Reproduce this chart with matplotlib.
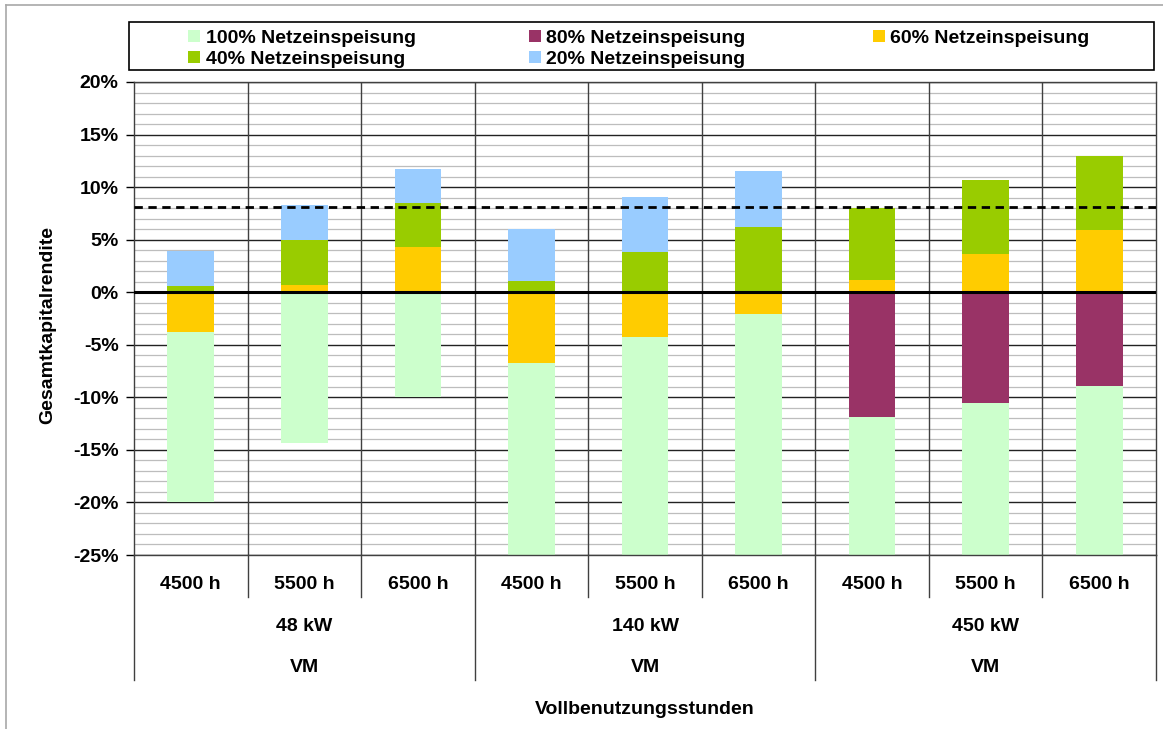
import numpy as np
import matplotlib
matplotlib.use('Agg')
import matplotlib.pyplot as plt
import matplotlib.transforms as mtransforms
from matplotlib.lines import Line2D
from matplotlib.patches import Patch, Rectangle
from matplotlib.ticker import MultipleLocator, FuncFormatter

plt.rcParams['font.family'] = ['Liberation Sans', 'DejaVu Sans']
plt.rcParams['font.weight'] = 'bold'
plt.rcParams['font.size'] = 14

# Daten
hours = ['4500 h', '5500 h', '6500 h', '4500 h', '5500 h', '6500 h', '4500 h', '5500 h', '6500 h']
sizes = ['48 kW', '140 kW', '450 kW']
plant = 'VM'

nan = np.nan
v100 = [-20.0, -14.3, -10.0, -28.0, -27.0, -26.0, -30.0, -29.0, -28.0]
v80 = [nan, nan, nan, nan, nan, nan, -11.9, -10.55, -8.95]
v60 = [-3.8, 0.7, 4.3, -6.7, -4.3, -2.05, 1.15, 3.6, 5.9]
v40 = [0.6, 5.0, 8.5, 1.05, 3.8, 6.2, 8.0, 10.65, 13.0]
v20 = [3.9, 8.3, 11.7, 6.0, 9.1, 11.5, nan, nan, nan]
target = 8.1

labels = ['100% Netzeinspeisung', '80% Netzeinspeisung', '60% Netzeinspeisung',
          '40% Netzeinspeisung', '20% Netzeinspeisung']
colors = ['#CCFFCC', '#993366', '#FFCC00', '#99CC00', '#99CCFF']

W, H = 1163, 729
fig = plt.figure(figsize=(W / 100, H / 100), dpi=100)
ax = fig.add_axes([134 / W, 1 - 555 / H, (1156 - 134) / W, (555 - 82) / H])

x = np.arange(len(hours))
width = 0.41
# Reihenfolge wie im Original: kleinere Werte liegen vorne
values = {0: v100, 1: v80, 4: v20, 3: v40, 2: v60}
for i, vals in values.items():
    vals = np.array(vals)
    ok = ~np.isnan(vals)
    ax.bar(x[ok], vals[ok], width=width, color=colors[i], zorder=2, linewidth=0)

ax.set_xlim(-0.5, len(hours) - 0.5)
ax.set_ylim(-25, 20)
ax.yaxis.set_major_locator(MultipleLocator(5))
ax.yaxis.set_minor_locator(MultipleLocator(1))
ax.yaxis.set_major_formatter(FuncFormatter(lambda v, p: f'{int(round(v))}%'))
ax.grid(axis='y', which='minor', color='#bdbdbd', linewidth=0.9, zorder=0)
ax.grid(axis='y', which='major', color='#222222', linewidth=1.0, zorder=0)
ax.set_axisbelow(True)
ax.tick_params(axis='y', which='major', direction='out', length=6, width=1, labelsize=14, pad=5)
ax.tick_params(axis='y', which='minor', length=0)
ax.set_xticks([])
for s in ax.spines.values():
    s.set_color('#404040')
    s.set_linewidth(1)

for b in np.arange(0.5, len(hours) - 1, 1):
    ax.axvline(b, color='#404040', linewidth=1, zorder=1)

ax.axhline(0, color='black', linewidth=2.2, zorder=3)
ax.axhline(target, color='black', linewidth=2, linestyle=(0, (3, 2)), zorder=3)

# mehrstufige x-Achse
trans = mtransforms.blended_transform_factory(ax.transData, ax.transAxes)
for b in np.arange(-0.5, len(hours), 1):
    bottom = -0.264 if b in (-0.5, 2.5, 5.5, 8.5) else -0.0888
    ax.plot([b, b], [0, bottom], color='#404040', linewidth=1, transform=trans, clip_on=False)
for xi, h in zip(x, hours):
    ax.text(xi, -0.0634, h, transform=trans, ha='center', va='center', fontsize=14)
for gi, s in enumerate(sizes):
    ax.text(gi * 3 + 1, -0.152, s, transform=trans, ha='center', va='center', fontsize=14)
    ax.text(gi * 3 + 1, -0.237, plant, transform=trans, ha='center', va='center', fontsize=14)

fig.text(645 / W, 1 - 710 / H, 'Vollbenutzungsstunden', ha='center', va='center', fontsize=14)
fig.text(48 / W, 1 - 325 / H, 'Gesamtkapitalrendite', rotation=90,
         ha='center', va='center', fontsize=14)

# Legende: Rahmen + drei Spalten
fig.add_artist(Rectangle((129 / W, 1 - 70 / H), (1154 - 129) / W, 48 / H,
                         transform=fig.transFigure, facecolor='white',
                         edgecolor='black', linewidth=1.2, zorder=1))
columns = [([0, 3], 188), ([1, 4], 529), ([2], 873)]
for idx, xpx in columns:
    handles = [Patch(facecolor=colors[i], edgecolor='none') for i in idx]
    leg = fig.legend(handles, [labels[i] for i in idx], loc='upper left',
                     bbox_to_anchor=(xpx / W, 1 - 30 / H), frameon=False,
                     borderaxespad=0, borderpad=0, handlelength=0.6, handleheight=0.6,
                     handletextpad=0.3, labelspacing=0.2, fontsize=14)
    leg.set_zorder(2)

# Rahmen der Grafik
fig.add_artist(Line2D([6 / W, 1], [1 - 5 / H, 1 - 5 / H], color='#a8a8a8', linewidth=1.2))
fig.add_artist(Line2D([6 / W, 6 / W], [0, 1 - 5 / H], color='#a8a8a8', linewidth=1.2))

fig.savefig('out.png', dpi=100)
